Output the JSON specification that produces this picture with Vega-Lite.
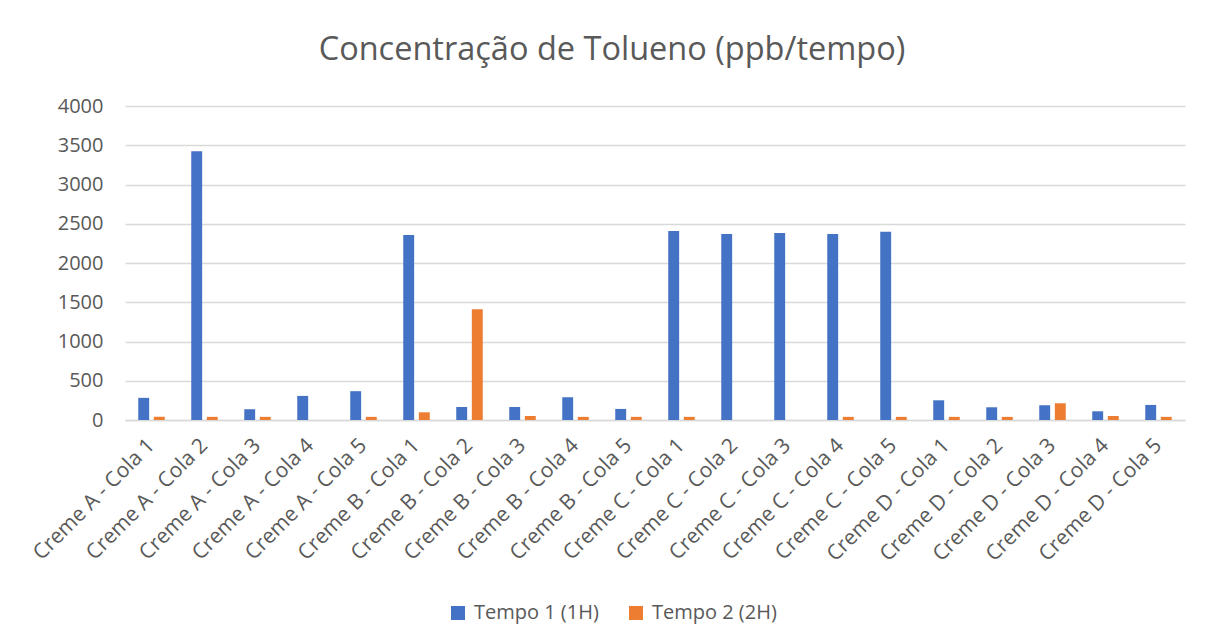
{
  "$schema": "https://vega.github.io/schema/vega-lite/v6.json",
  "autosize": "none",
  "width": 1060,
  "height": 314,
  "padding": {"left": 125, "top": 106, "right": 21, "bottom": 223},
  "background": "white",
  "title": {
    "text": "Concentração de Tolueno (ppb/tempo)",
    "font": "Open Sans",
    "fontSize": 32.5,
    "fontWeight": "normal",
    "color": "#595959",
    "anchor": "middle",
    "dx": -43,
    "offset": 30
  },
  "data": {
    "values": [
      {"cat": "Creme A - Cola 1", "serie": "Tempo 1 (1H)", "valor": 282},
      {"cat": "Creme A - Cola 1", "serie": "Tempo 2 (2H)", "valor": 40},
      {"cat": "Creme A - Cola 2", "serie": "Tempo 1 (1H)", "valor": 3425},
      {"cat": "Creme A - Cola 2", "serie": "Tempo 2 (2H)", "valor": 40},
      {"cat": "Creme A - Cola 3", "serie": "Tempo 1 (1H)", "valor": 137},
      {"cat": "Creme A - Cola 3", "serie": "Tempo 2 (2H)", "valor": 40},
      {"cat": "Creme A - Cola 4", "serie": "Tempo 1 (1H)", "valor": 307},
      {"cat": "Creme A - Cola 4", "serie": "Tempo 2 (2H)", "valor": 0},
      {"cat": "Creme A - Cola 5", "serie": "Tempo 1 (1H)", "valor": 367},
      {"cat": "Creme A - Cola 5", "serie": "Tempo 2 (2H)", "valor": 40},
      {"cat": "Creme B - Cola 1", "serie": "Tempo 1 (1H)", "valor": 2356},
      {"cat": "Creme B - Cola 1", "serie": "Tempo 2 (2H)", "valor": 98},
      {"cat": "Creme B - Cola 2", "serie": "Tempo 1 (1H)", "valor": 166},
      {"cat": "Creme B - Cola 2", "serie": "Tempo 2 (2H)", "valor": 1412},
      {"cat": "Creme B - Cola 3", "serie": "Tempo 1 (1H)", "valor": 166},
      {"cat": "Creme B - Cola 3", "serie": "Tempo 2 (2H)", "valor": 51},
      {"cat": "Creme B - Cola 4", "serie": "Tempo 1 (1H)", "valor": 290},
      {"cat": "Creme B - Cola 4", "serie": "Tempo 2 (2H)", "valor": 40},
      {"cat": "Creme B - Cola 5", "serie": "Tempo 1 (1H)", "valor": 141},
      {"cat": "Creme B - Cola 5", "serie": "Tempo 2 (2H)", "valor": 40},
      {"cat": "Creme C - Cola 1", "serie": "Tempo 1 (1H)", "valor": 2407},
      {"cat": "Creme C - Cola 1", "serie": "Tempo 2 (2H)", "valor": 40},
      {"cat": "Creme C - Cola 2", "serie": "Tempo 1 (1H)", "valor": 2369},
      {"cat": "Creme C - Cola 2", "serie": "Tempo 2 (2H)", "valor": 0},
      {"cat": "Creme C - Cola 3", "serie": "Tempo 1 (1H)", "valor": 2381},
      {"cat": "Creme C - Cola 3", "serie": "Tempo 2 (2H)", "valor": 0},
      {"cat": "Creme C - Cola 4", "serie": "Tempo 1 (1H)", "valor": 2369},
      {"cat": "Creme C - Cola 4", "serie": "Tempo 2 (2H)", "valor": 40},
      {"cat": "Creme C - Cola 5", "serie": "Tempo 1 (1H)", "valor": 2398},
      {"cat": "Creme C - Cola 5", "serie": "Tempo 2 (2H)", "valor": 40},
      {"cat": "Creme D - Cola 1", "serie": "Tempo 1 (1H)", "valor": 251},
      {"cat": "Creme D - Cola 1", "serie": "Tempo 2 (2H)", "valor": 40},
      {"cat": "Creme D - Cola 2", "serie": "Tempo 1 (1H)", "valor": 162},
      {"cat": "Creme D - Cola 2", "serie": "Tempo 2 (2H)", "valor": 40},
      {"cat": "Creme D - Cola 3", "serie": "Tempo 1 (1H)", "valor": 188},
      {"cat": "Creme D - Cola 3", "serie": "Tempo 2 (2H)", "valor": 213},
      {"cat": "Creme D - Cola 4", "serie": "Tempo 1 (1H)", "valor": 111},
      {"cat": "Creme D - Cola 4", "serie": "Tempo 2 (2H)", "valor": 51},
      {"cat": "Creme D - Cola 5", "serie": "Tempo 1 (1H)", "valor": 192},
      {"cat": "Creme D - Cola 5", "serie": "Tempo 2 (2H)", "valor": 40}
    ]
  },
  "mark": {"type": "bar"},
  "encoding": {
    "x": {
      "field": "cat",
      "type": "nominal",
      "sort": null,
      "scale": {"paddingInner": 0.5, "paddingOuter": 0.25},
      "axis": {
        "title": null,
        "labelAngle": -45,
        "labelAlign": "right",
        "labelBaseline": "middle",
        "labelFont": "Open Sans",
        "labelFontSize": 21,
        "labelColor": "#595959",
        "labelPadding": 22,
        "labelOverlap": false,
        "labelBound": false,
        "ticks": false,
        "domainColor": "#d9d9d9",
        "domainWidth": 1.5
      }
    },
    "xOffset": {
      "field": "serie",
      "type": "nominal",
      "scale": {"paddingInner": 0.3}
    },
    "y": {
      "field": "valor",
      "type": "quantitative",
      "scale": {"domain": [0, 4000], "nice": false},
      "axis": {
        "title": null,
        "format": "d",
        "values": [0, 500, 1000, 1500, 2000, 2500, 3000, 3500, 4000],
        "labelFont": "Open Sans",
        "labelFontSize": 20,
        "labelColor": "#595959",
        "labelPadding": 22,
        "ticks": false,
        "domain": false,
        "gridColor": "#d9d9d9",
        "gridWidth": 1.5
      }
    },
    "color": {
      "field": "serie",
      "type": "nominal",
      "scale": {"domain": ["Tempo 1 (1H)", "Tempo 2 (2H)"], "range": ["#4472C4", "#ED7D31"]},
      "legend": {
        "title": null,
        "orient": "none",
        "direction": "horizontal",
        "legendX": 323,
        "legendY": 497,
        "symbolType": "square",
        "symbolSize": 196,
        "symbolStrokeWidth": 0,
        "labelFont": "Open Sans",
        "labelFontSize": 20,
        "labelColor": "#595959",
        "columnPadding": 27,
        "labelOffset": 6
      }
    }
  },
  "config": {"view": {"stroke": null}}
}
